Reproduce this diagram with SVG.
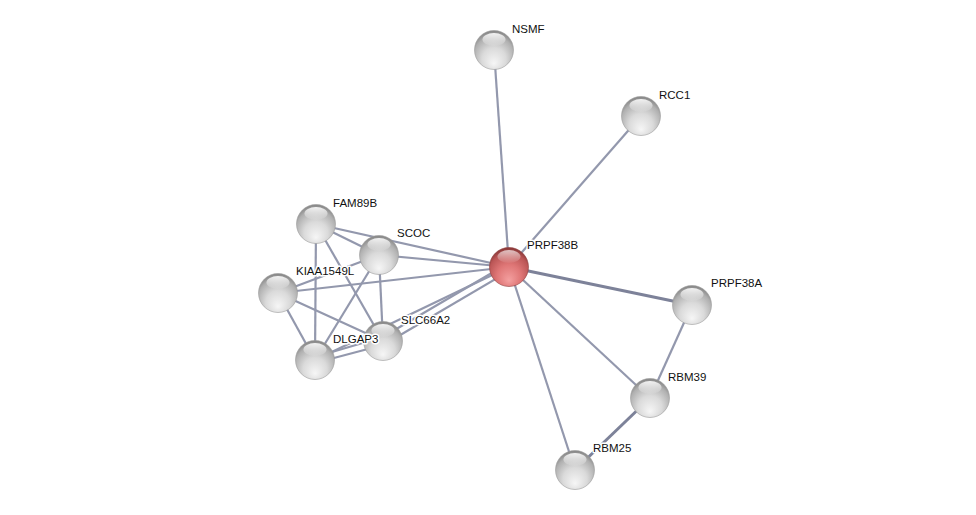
<svg xmlns="http://www.w3.org/2000/svg" width="976" height="515" viewBox="0 0 976 515">
<defs>
<radialGradient id="gGray" cx="0.5" cy="0.65" r="0.62" fx="0.5" fy="0.85">
<stop offset="0" stop-color="#f6f6f6"/>
<stop offset="0.5" stop-color="#dadada"/>
<stop offset="0.85" stop-color="#b0b0b0"/>
<stop offset="1" stop-color="#8a8a8a"/>
</radialGradient>
<radialGradient id="gRed" cx="0.5" cy="0.65" r="0.62" fx="0.5" fy="0.85">
<stop offset="0" stop-color="#f4a0a0"/>
<stop offset="0.5" stop-color="#df7676"/>
<stop offset="0.85" stop-color="#bb5656"/>
<stop offset="1" stop-color="#8e3a3a"/>
</radialGradient>
<linearGradient id="gHi" x1="0" y1="0" x2="0" y2="1">
<stop offset="0" stop-color="#ffffff" stop-opacity="0.9"/>
<stop offset="1" stop-color="#ffffff" stop-opacity="0.05"/>
</linearGradient>
<g id="gnode">
<circle r="19.5" fill="url(#gGray)" stroke="#9a9a9a" stroke-width="0.6"/>
<ellipse cx="0" cy="-10.5" rx="11.5" ry="6.5" fill="url(#gHi)"/>
</g>
<g id="rnode">
<circle r="19.5" fill="url(#gRed)" stroke="#8e3e3e" stroke-width="0.6"/>
<ellipse cx="0" cy="-10.5" rx="11.5" ry="6.5" fill="url(#gHi)" opacity="0.75"/>
</g>
</defs>
<style>
.e{stroke:#9398ad;stroke-width:2.2;fill:none}
.ed{stroke:#7d8299;stroke-width:3;fill:none}
text{font-family:"Liberation Sans",Arial,sans-serif;font-size:11.5px;fill:#111;paint-order:stroke;stroke:#ffffff;stroke-width:3px;stroke-linejoin:round}
</style>
<rect width="976" height="515" fill="#ffffff"/>
<g id="edges">
<line class="e" x1="509" y1="267" x2="494" y2="50"/>
<line class="e" x1="509" y1="267" x2="641" y2="116"/>
<line class="ed" x1="509" y1="267" x2="692" y2="305"/>
<line class="e" x1="509" y1="267" x2="650" y2="398"/>
<line class="e" x1="509" y1="267" x2="575" y2="470"/>
<line class="e" x1="509" y1="267" x2="379" y2="255"/>
<line class="e" x1="509" y1="267" x2="316" y2="224"/>
<line class="e" x1="509" y1="267" x2="278" y2="293"/>
<line class="e" x1="507" y1="264" x2="381" y2="338"/>
<line class="e" x1="511" y1="270" x2="385" y2="344"/>
<line class="e" x1="509" y1="267" x2="315" y2="360"/>
<line class="e" x1="692" y1="305" x2="650" y2="398"/>
<line class="ed" x1="650" y1="398" x2="575" y2="470"/>
<line class="e" x1="316" y1="224" x2="379" y2="255"/>
<line class="e" x1="316" y1="224" x2="315" y2="360"/>
<line class="e" x1="316" y1="224" x2="383" y2="341"/>
<line class="e" x1="278" y1="293" x2="379" y2="255"/>
<line class="e" x1="278" y1="293" x2="383" y2="341"/>
<line class="e" x1="278" y1="293" x2="315" y2="360"/>
<line class="e" x1="379" y1="255" x2="315" y2="360"/>
<line class="e" x1="379" y1="255" x2="383" y2="341"/>
<line class="e" x1="315" y1="357" x2="383" y2="337"/>
<line class="e" x1="315" y1="363" x2="383" y2="345"/>
</g>
<g id="NSMF"><use href="#gnode" x="494" y="50"/><text x="512" y="33">NSMF</text></g>
<g id="RCC1"><use href="#gnode" x="641" y="116"/><text x="659" y="99">RCC1</text></g>
<g id="FAM89B"><use href="#gnode" x="316" y="224"/><text x="333" y="207">FAM89B</text></g>
<g id="KIAA1549L"><use href="#gnode" x="278" y="293"/></g>
<g id="SCOC"><use href="#gnode" x="379" y="255"/><text x="397" y="237">SCOC</text></g>
<g id="KIAA1549L-label"><text x="296" y="275">KIAA1549L</text></g>
<g id="DLGAP3"><use href="#gnode" x="315" y="360"/></g>
<g id="SLC66A2"><use href="#gnode" x="383" y="341"/><text x="401" y="324">SLC66A2</text></g>
<g id="DLGAP3-label"><text x="333" y="343">DLGAP3</text></g>
<g id="PRPF38B"><use href="#rnode" x="509" y="267"/><text x="527" y="249">PRPF38B</text></g>
<g id="PRPF38A"><use href="#gnode" x="692" y="305"/><text x="711" y="287">PRPF38A</text></g>
<g id="RBM39"><use href="#gnode" x="650" y="398"/><text x="668" y="381">RBM39</text></g>
<g id="RBM25"><use href="#gnode" x="575" y="470"/><text x="593" y="452">RBM25</text></g>
</svg>
